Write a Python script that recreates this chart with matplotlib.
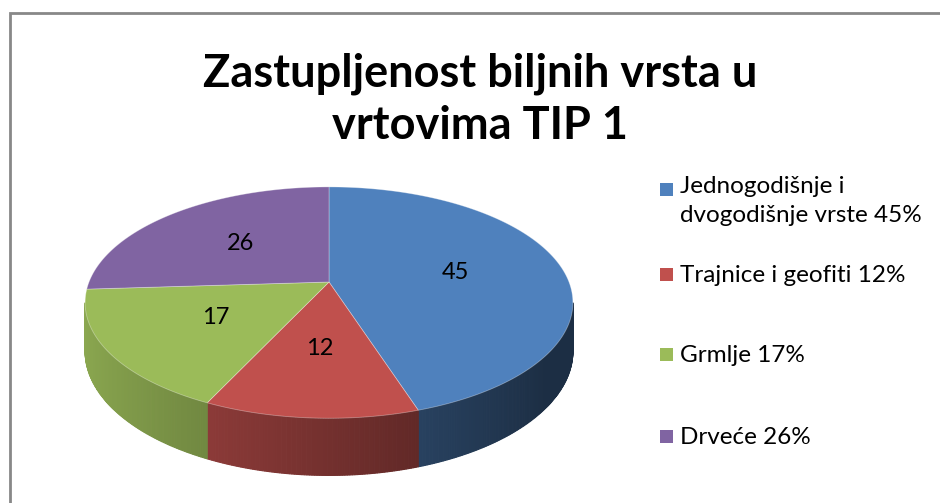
import numpy as np
import matplotlib
matplotlib.use("Agg")
import matplotlib.pyplot as plt
from matplotlib.patches import Polygon, Rectangle

# data
categories = ["Jednogodišnje i\ndvogodišnje vrste 45%", "Trajnice i geofiti 12%",
              "Grmlje 17%", "Drveće 26%"]
values = [45, 12, 17, 26]
colors = ["#4F81BD", "#C0504D", "#9BBB59", "#8064A2"]
title = "Zastupljenost biljnih vrsta u\nvrtovima TIP 1"

# pie geometry in pixel units (perspective ellipse)
cx, cy = 329, 282
rx, ry = 240, 112
persp = 0.178
depth = 47

plt.rcParams['font.family'] = ['Lato', 'DejaVu Sans']

fig = plt.figure(figsize=(9.4, 5.03), dpi=100)
ax = fig.add_axes([0, 0, 1, 1])
ax.set_xlim(0, 940)
ax.set_ylim(503, 0)
ax.axis('off')


def project(theta, r=1.0):
    # theta in degrees clockwise from 12 o'clock
    t = np.radians(theta)
    X = r * np.sin(t)
    Y = -r * np.cos(t)
    s = 1.0 / (1.0 - persp * Y)
    return cx + rx * X * s, cy + ry * Y * s, s, X


def shade(col, f):
    rgb = np.array(matplotlib.colors.to_rgb(col))
    return tuple(np.clip(rgb * f, 0, 1))


total = float(sum(values))
bounds = np.concatenate([[0], np.cumsum(values)]) / total * 360

# visible part of the wall: between right-most and left-most outline points
grid = np.linspace(0, 360, 3601)
xs = np.array([project(t)[0] for t in grid])
side_lo, side_hi = grid[np.argmax(xs)], grid[np.argmin(xs)]

# side walls (front half only)
for i, col in enumerate(colors):
    a0, a1 = max(bounds[i], side_lo), min(bounds[i + 1], side_hi)
    if a1 <= a0:
        continue
    ts = np.linspace(a0, a1, int((a1 - a0) * 2) + 2)
    for ta, tb in zip(ts[:-1], ts[1:]):
        xa, ya, sa, Xa = project(ta)
        xb, yb, sb, Xb = project(tb)
        f = np.clip(0.6 - 0.3 * (Xa + Xb) / 2, 0.36, 0.9)
        quad = [(xa, ya), (xb, yb), (xb, yb + depth * sb), (xa, ya + depth * sa)]
        ax.add_patch(Polygon(quad, closed=True, facecolor=shade(col, f),
                             edgecolor=shade(col, f), linewidth=0.8))

# top faces
for i, col in enumerate(colors):
    ts = np.linspace(bounds[i], bounds[i + 1], 200)
    pts = [(cx, cy)] + [project(t)[:2] for t in ts]
    ax.add_patch(Polygon(pts, closed=True, facecolor=col,
                         edgecolor=(1, 1, 1, 0.35), linewidth=0.6))

# data labels
for i, v in enumerate(values):
    mid = (bounds[i] + bounds[i + 1]) / 2
    x, y, _, _ = project(mid, 0.54)
    ax.text(x, y, str(v), ha='center', va='center', fontsize=17, color='black')

# title
ax.text(480, 100, title, ha='center', va='center', fontsize=32.5,
        fontweight='bold', linespacing=1.3)

# legend
leg_y = [190, 275, 355, 437]
for lab, col, y in zip(categories, colors, leg_y):
    ax.add_patch(Rectangle((660, y - 7), 13, 13, facecolor=col, edgecolor='none'))
    if '\n' in lab:
        ax.text(680, y - 14, lab, ha='left', va='top', fontsize=17.5, linespacing=1.5)
    else:
        ax.text(680, y, lab, ha='left', va='center', fontsize=17.5)

# chart border (left and top visible)
ax.plot([10, 10, 940], [503, 13, 13], color='#888888', linewidth=2,
        solid_joinstyle='miter')

fig.savefig("out.png", dpi=100)
